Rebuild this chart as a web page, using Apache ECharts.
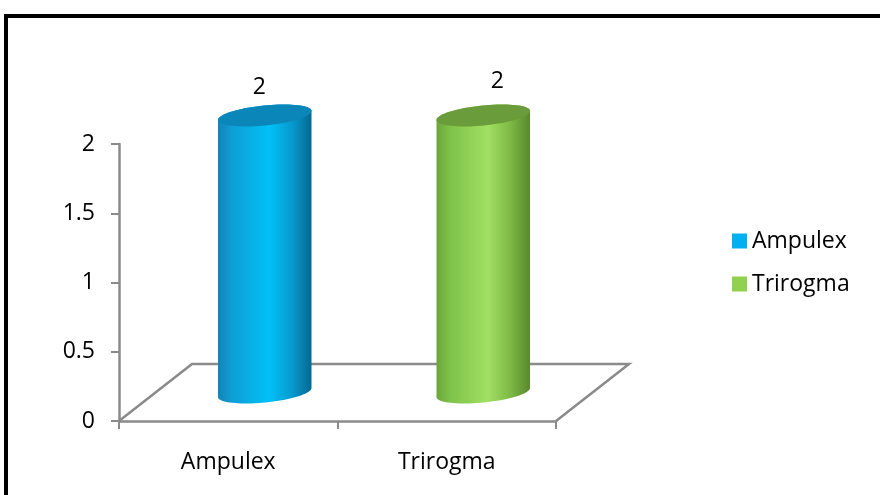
<!DOCTYPE html>
<html>
<head>
<meta charset="utf-8">
<script src="https://cdn.jsdelivr.net/npm/echarts@6/dist/echarts.min.js"></script>
<style>
  html, body { margin: 0; padding: 0; background: #fff; }
  #chart { width: 880px; height: 495px; }
</style>
</head>
<body>
<div id="chart"></div>
<script>
// Genus counts
const categories = ['Ampulex', 'Trirogma'];
const values = [2, 2];
const yTicks = [0, 0.5, 1, 1.5, 2];

// Base colours and cylinder shading (left, mid-left, highlight, mid-right, right, cap)
const baseColors = ['#00B0F0', '#92D050'];
const shades = [
  ['#1383b6', '#0e9fd5', '#00c0f8', '#0898cb', '#056892', '#0a86b9'],
  ['#6aa63a', '#80c34a', '#a0e062', '#7cb744', '#58882d', '#6b9c3b']
];

const FONT = 'Open Sans';
const FONT_SIZE = 23;
const AXIS_GRAY = '#8a8a8a';
const DEPTH = [73, -57];   // oblique offset of the floor's back edge
const TILT = 0.1;          // ellipse tilt (radians)
const RY = 10;
const EYE_X = 370;         // horizontal centre of the perspective

function ellipsePoint(c, rx, ry, t) {
  const u = rx * Math.cos(t), v = ry * Math.sin(t);
  return [c[0] + u * Math.cos(TILT) + v * Math.sin(TILT),
          c[1] - u * Math.sin(TILT) + v * Math.cos(TILT)];
}

function renderFloor(params, api) {
  const cs = params.coordSys;
  const fl = [cs.x, cs.y + cs.height];
  const fr = [cs.x + cs.width, cs.y + cs.height];
  const bl = [fl[0] + DEPTH[0], fl[1] + DEPTH[1]];
  const br = [fr[0] + DEPTH[0], fr[1] + DEPTH[1]];
  return {
    type: 'polyline',
    shape: { points: [fl, bl, br, fr] },
    style: { stroke: AXIS_GRAY, lineWidth: 2.5, fill: null },
    silent: true
  };
}

function makeCylinderRenderer(si) {
  const sh = shades[si];
  return function (params, api) {
    const i = api.value(0);
    const v = api.value(1);
    const base = api.coord([i, 0]);
    const top = api.coord([i, v]);
    const band = api.size([1, 0])[0];
    const rx = band * 0.215;
    const off = [DEPTH[0] / 2, DEPTH[1] / 2];
    const bc = [base[0] + off[0], base[1] + off[1]];
    const tc = [top[0] + off[0], top[1] + off[1]];
    const N = 40;
    const pts = [];
    // front of the bottom rim, left to right
    for (let k = 0; k <= N; k++) {
      pts.push(ellipsePoint(bc, rx, RY, Math.PI - Math.PI * k / N));
    }
    // back of the top rim, right to left
    for (let k = 0; k <= N; k++) {
      pts.push(ellipsePoint(tc, rx, RY, -Math.PI * k / N));
    }
    const cap = [];
    for (let k = 0; k < 2 * N; k++) {
      cap.push(ellipsePoint(tc, rx, RY, 2 * Math.PI * k / (2 * N)));
    }
    const grad = new echarts.graphic.LinearGradient(0, 0, 1, 0, [
      { offset: 0, color: sh[0] },
      { offset: 0.15, color: sh[1] },
      { offset: 0.55, color: sh[2] },
      { offset: 0.8, color: sh[3] },
      { offset: 1, color: sh[4] }
    ]);
    // value label, nudged with the chart's perspective
    const lean = tc[0] - EYE_X;
    const lx = tc[0] + 4 + lean * 0.09;
    const ly = tc[1] - 31 - lean * 0.03;
    return {
      type: 'group',
      children: [
        { type: 'polygon', shape: { points: pts }, style: { fill: grad } },
        { type: 'polygon', shape: { points: cap }, style: { fill: sh[5] } },
        {
          type: 'text',
          x: lx, y: ly,
          style: {
            text: String(v), fill: '#000', font: FONT_SIZE + 'px "' + FONT + '"',
            align: 'center', verticalAlign: 'middle'
          }
        }
      ]
    };
  };
}

const series = [{
  type: 'custom',
  name: '__floor',
  renderItem: renderFloor,
  data: [[0, 0]],
  z: 1,
  silent: true
}];
categories.forEach(function (name, i) {
  series.push({
    type: 'custom',
    name: name,
    renderItem: makeCylinderRenderer(i),
    itemStyle: { color: baseColors[i] },
    encode: { x: 0, y: 1 },
    data: [[i, values[i]]],
    z: 3
  });
});

const chart = echarts.init(document.getElementById('chart'), null, { renderer: 'canvas' });
chart.setOption({
  animation: false,
  backgroundColor: '#ffffff',
  textStyle: { fontFamily: FONT },
  graphic: [{
    type: 'rect',
    shape: { x: 6, y: 16, width: 900, height: 500 },
    style: { fill: null, stroke: '#000', lineWidth: 4 },
    z: 10
  }],
  grid: { left: 119, right: 324, top: 144, bottom: 74 },
  legend: {
    data: categories,
    orient: 'vertical',
    left: 732,
    top: 229,
    padding: 0,
    icon: 'rect',
    itemWidth: 15,
    itemHeight: 15,
    itemGap: 19,
    textStyle: { fontFamily: FONT, fontSize: FONT_SIZE, color: '#000', lineHeight: 24 }
  },
  xAxis: {
    type: 'category',
    data: categories,
    axisLine: { lineStyle: { color: AXIS_GRAY, width: 2.5 } },
    axisTick: { show: true, length: 8, lineStyle: { color: AXIS_GRAY, width: 2 } },
    axisLabel: { color: '#000', fontFamily: FONT, fontSize: FONT_SIZE, margin: 30 },
    splitLine: { show: false }
  },
  yAxis: {
    type: 'value',
    min: yTicks[0],
    max: yTicks[yTicks.length - 1],
    interval: yTicks[1] - yTicks[0],
    axisLine: { show: true, lineStyle: { color: AXIS_GRAY, width: 2.5 } },
    axisTick: { show: true, length: 8, lineStyle: { color: AXIS_GRAY, width: 2 } },
    axisLabel: { color: '#000', fontFamily: FONT, fontSize: FONT_SIZE, margin: 24 },
    splitLine: { show: false }
  },
  series: series
});
</script>
</body>
</html>
